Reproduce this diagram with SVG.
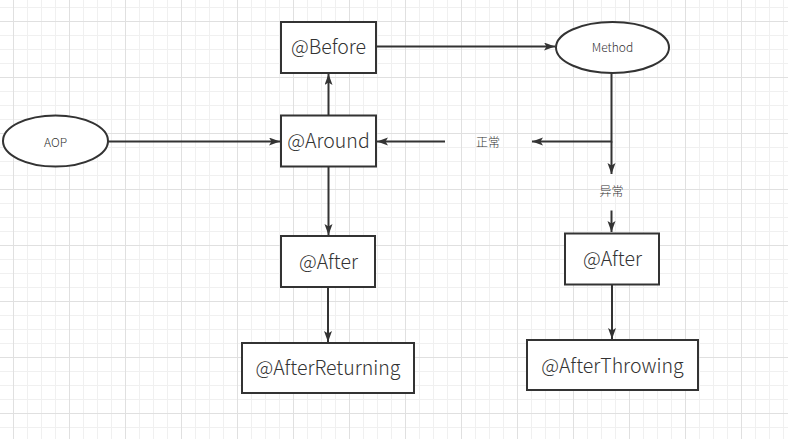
<svg xmlns="http://www.w3.org/2000/svg" width="788" height="439" viewBox="0 0 788 439">
<defs>
<pattern id="grid" x="13" y="21" width="56" height="56" patternUnits="userSpaceOnUse">
<path d="M14.5 0V56M28.5 0V56M42.5 0V56M0 14.5H56M0 28.5H56M0 42.5H56" stroke="#f0f0f0" stroke-width="1" fill="none"/>
<path d="M0.5 0V56M0 0.5H56" stroke="#e0e0e0" stroke-width="1" fill="none"/>
</pattern>
<marker id="arr" markerUnits="userSpaceOnUse" markerWidth="12" markerHeight="10" refX="11" refY="4" orient="auto">
<path d="M0,0 L11,4 L0,8 L2.5,4 Z" fill="#333"/>
</marker>
</defs>
<style>
.box{fill:#fff;stroke:#333;stroke-width:2}
.big{font-family:"Noto Sans CJK SC","Noto Sans",sans-serif;font-weight:300;font-size:19.5px;fill:#333;text-anchor:middle;dominant-baseline:central}
.small{font-family:"Noto Sans CJK SC","Noto Sans",sans-serif;font-weight:300;font-size:12px;fill:#333;text-anchor:middle;dominant-baseline:central}
.edge{stroke:#333;stroke-width:2;fill:none}
</style>
<rect width="788" height="439" fill="#fff"/>
<rect width="788" height="439" fill="url(#grid)"/>
<g id="connectors">
<line class="edge" x1="108" y1="141.5" x2="280" y2="141.5" marker-end="url(#arr)"/>
<line class="edge" x1="328.5" y1="115" x2="328.5" y2="74" marker-end="url(#arr)"/>
<line class="edge" x1="328.5" y1="167" x2="328.5" y2="235" marker-end="url(#arr)"/>
<line class="edge" x1="376" y1="46.5" x2="555" y2="46.5" marker-end="url(#arr)"/>
<polyline class="edge" points="611.5,73 611.5,141.5 532,141.5" marker-end="url(#arr)"/>
<line class="edge" x1="611.5" y1="141.5" x2="611.5" y2="174" marker-end="url(#arr)"/>
<line class="edge" x1="445" y1="141.5" x2="377" y2="141.5" marker-end="url(#arr)"/>
<line class="edge" x1="611.5" y1="210.5" x2="611.5" y2="232" marker-end="url(#arr)"/>
<line class="edge" x1="328" y1="287" x2="328" y2="342" marker-end="url(#arr)"/>
<line class="edge" x1="612" y1="285" x2="612" y2="339" marker-end="url(#arr)"/>
<text class="small" x="488" y="141">正常</text>
<text class="small" x="611.5" y="190.5">异常</text>
</g>
<g id="aop">
<ellipse class="box" cx="55.5" cy="141" rx="52.5" ry="25.5"/>
<text class="small" x="55.5" y="141">AOP</text>
</g>
<g id="before">
<rect class="box" x="281" y="22" width="95" height="51"/>
<text class="big" x="328.5" y="45.5">@Before</text>
</g>
<g id="around">
<rect class="box" x="281" y="115.5" width="95" height="51"/>
<text class="big" x="328.5" y="139">@Around</text>
</g>
<g id="method">
<ellipse class="box" cx="612.5" cy="47.5" rx="56.5" ry="25.5"/>
<text class="small" x="612.5" y="46.5">Method</text>
</g>
<g id="after-left">
<rect class="box" x="281" y="236" width="94" height="51"/>
<text class="big" x="328.5" y="260">@After</text>
</g>
<g id="after-returning">
<rect class="box" x="242" y="343" width="172" height="50"/>
<text class="big" x="328" y="366.5">@AfterReturning</text>
</g>
<g id="after-right">
<rect class="box" x="565" y="233.5" width="94" height="51"/>
<text class="big" x="612.5" y="257.5">@After</text>
</g>
<g id="after-throwing">
<rect class="box" x="527" y="340" width="171" height="50"/>
<text class="big" x="612.5" y="364">@AfterThrowing</text>
</g>
</svg>
